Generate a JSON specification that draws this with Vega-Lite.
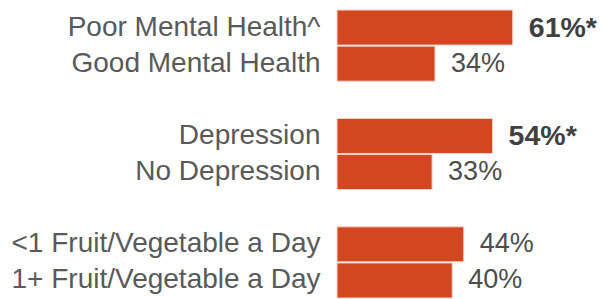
{
  "$schema": "https://vega.github.io/schema/vega-lite/v6.json",
  "width": 268,
  "height": 288,
  "autosize": "none",
  "padding": {"left": 337, "top": 10, "right": 0, "bottom": 1},
  "background": "#ffffff",
  "config": {"view": {"stroke": null}},
  "data": {
    "values": [
      {"category": "Poor Mental Health^", "value": 61, "label": "61%*", "bold": true},
      {"category": "Good Mental Health", "value": 34, "label": "34%", "bold": false},
      {"category": "Depression", "value": 54, "label": "54%*", "bold": true},
      {"category": "No Depression", "value": 33, "label": "33%", "bold": false},
      {"category": "<1 Fruit/Vegetable a Day", "value": 44, "label": "44%", "bold": false},
      {"category": "1+ Fruit/Vegetable a Day", "value": 40, "label": "40%", "bold": false}
    ]
  },
  "encoding": {
    "y": {
      "field": "category",
      "type": "nominal",
      "sort": null,
      "scale": {
        "domain": ["Poor Mental Health^", "Good Mental Health", " ", "Depression", "No Depression", "  ", "<1 Fruit/Vegetable a Day", "1+ Fruit/Vegetable a Day"],
        "paddingInner": 0.03,
        "paddingOuter": 0
      },
      "axis": {
        "title": null,
        "domain": false,
        "ticks": false,
        "labelFont": "Liberation Sans",
        "labelFontSize": 28,
        "labelColor": "#595959",
        "labelPadding": 17,
        "labelLimit": 400
      }
    },
    "x": {
      "field": "value",
      "type": "quantitative",
      "scale": {"domain": [0, 93], "nice": false},
      "axis": null
    }
  },
  "layer": [
    {
      "mark": {"type": "bar", "color": "#D3461F", "stroke": "#F6D5CB", "strokeWidth": 1}
    },
    {
      "transform": [{"filter": "datum.bold"}],
      "mark": {"type": "text", "align": "left", "baseline": "middle", "dx": 16, "font": "Liberation Sans", "fontSize": 28.5, "fontWeight": "bold", "color": "#404040"},
      "encoding": {"text": {"field": "label"}}
    },
    {
      "transform": [{"filter": "!datum.bold"}],
      "mark": {"type": "text", "align": "left", "baseline": "middle", "dx": 16, "font": "Liberation Sans", "fontSize": 27, "color": "#4d4d4d"},
      "encoding": {"text": {"field": "label"}}
    }
  ]
}
